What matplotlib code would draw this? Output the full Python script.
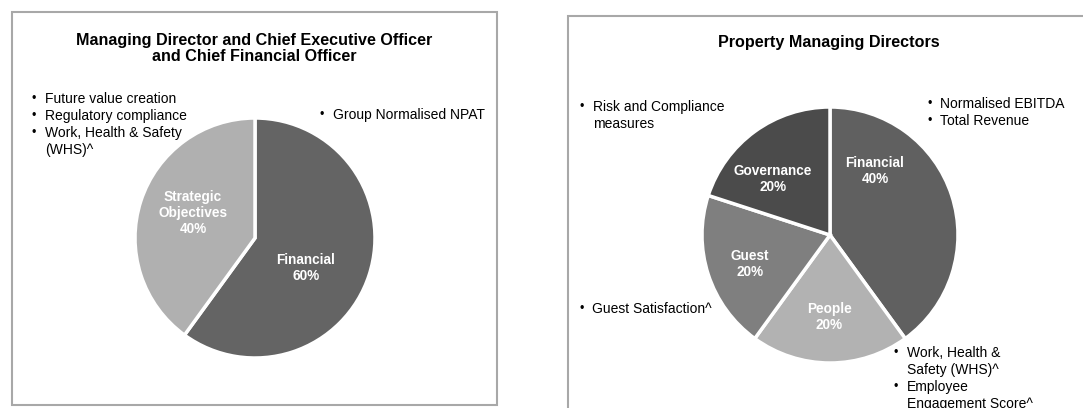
import matplotlib
matplotlib.use("Agg")
import matplotlib.pyplot as plt
from matplotlib.patches import Rectangle

plt.rcParams['font.family'] = ['Liberation Sans', 'DejaVu Sans']

# ---- data ----
left_title = "Managing Director and Chief Executive Officer\nand Chief Financial Officer"
left_categories = ["Financial", "Strategic\nObjectives"]
left_values = [60, 40]
left_colors = ["#646464", "#b0b0b0"]
left_notes_a = ["Future value creation", "Regulatory compliance", "Work, Health & Safety\n(WHS)^"]
left_notes_b = ["Group Normalised NPAT"]

right_title = "Property Managing Directors"
right_categories = ["Financial", "People", "Guest", "Governance"]
right_values = [40, 20, 20, 20]
right_colors = ["#606060", "#b2b2b2", "#7f7f7f", "#4b4b4b"]
right_notes_fin = ["Normalised EBITDA", "Total Revenue"]
right_notes_gov = ["Risk and Compliance\nmeasures"]
right_notes_guest = ["Guest Satisfaction^"]
right_notes_people = ["Work, Health &\nSafety (WHS)^", "Employee\nEngagement Score^"]

W, H = 1083, 408
fig = plt.figure(figsize=(W / 100, H / 100), dpi=100)
ax = fig.add_axes([0, 0, 1, 1])


def Y(y):
    return H - y


def pie(values, colors, cx, cy, r):
    wedges, _ = ax.pie(values, colors=colors, startangle=90, counterclock=False,
                       center=(cx, Y(cy)), radius=r, frame=True,
                       wedgeprops=dict(edgecolor="white", linewidth=2.5))
    return wedges


def bullets(items, x, y, step=17, fs=10):
    yy = y
    for it in items:
        lines = it.split("\n")
        ax.text(x - 13, Y(yy), "\u2022", fontsize=fs * 0.9, ha="left", va="center")
        for ln in lines:
            ax.text(x, Y(yy), ln, fontsize=fs, ha="left", va="center")
            yy += step


def slice_label(cat, val, x, y, fs=9.8):
    ax.text(x, Y(y), f"{cat}\n{val}%", color="white", fontsize=fs, fontweight="bold",
            ha="center", va="center", linespacing=1.2)


# boxes
ax.add_patch(Rectangle((12, Y(405)), 485, 393, fill=False, edgecolor="#a8a8a8", linewidth=1.5))
ax.add_patch(Rectangle((568, Y(420)), 530, 404, fill=False, edgecolor="#a8a8a8", linewidth=1.5))

# left chart
pie(left_values, left_colors, 255, 238, 120)
ax.text(254, Y(48.5), left_title, fontsize=11.6, fontweight="bold", ha="center", va="center",
        linespacing=1.15)
slice_label(left_categories[1], left_values[1], 193, 213)
slice_label(left_categories[0], left_values[0], 306, 268)
bullets(left_notes_a, 45, 99)
bullets(left_notes_b, 333, 115)

# right chart
pie(right_values, right_colors, 830, 235, 128)
ax.text(829, Y(43), right_title, fontsize=11.6, fontweight="bold", ha="center", va="center")
slice_label(right_categories[0], right_values[0], 875, 171)
slice_label(right_categories[1], right_values[1], 829, 317)
slice_label(right_categories[2], right_values[2], 750, 264)
slice_label(right_categories[3], right_values[3], 773, 179)
bullets(right_notes_gov, 593, 107)
bullets(right_notes_fin, 940, 104)
bullets(right_notes_guest, 592, 309)
bullets(right_notes_people, 907, 353)

ax.set_xlim(0, W)
ax.set_ylim(0, H)
ax.set_aspect("auto")
ax.axis("off")
fig.savefig("out.png", dpi=100, facecolor="white")
